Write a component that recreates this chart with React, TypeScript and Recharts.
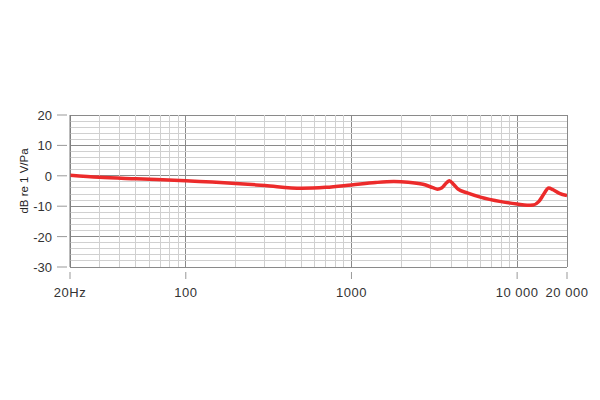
import React from 'react';
import { LineChart, Line, XAxis, YAxis, CartesianGrid, ReferenceLine } from 'recharts';

const freqs = [20, 30, 50, 100, 200, 300, 500, 700, 1000, 1400, 1800, 2200, 2700, 3100, 3300, 3500, 3750, 3900, 4100, 4400, 5000, 6000, 8000, 10000, 11500, 12500, 13500, 14500, 15500, 16500, 18000, 20000];
const levels = [0.2, -0.5, -1.0, -1.6, -2.5, -3.2, -4.1, -3.8, -3.0, -2.2, -1.9, -2.1, -2.8, -3.9, -4.4, -4.0, -2.3, -1.6, -2.6, -4.4, -5.6, -7.0, -8.5, -9.3, -9.7, -9.6, -8.5, -6.0, -4.0, -4.6, -5.8, -6.5];

const xMinor = [30, 40, 50, 60, 70, 80, 90, 200, 300, 400, 500, 600, 700, 800, 900, 2000, 3000, 4000, 5000, 6000, 7000, 8000, 9000];
const xMajor = [20, 100, 1000, 10000, 20000];
const xLabels = ['20Hz', '100', '1000', '10 000', '20 000'];
const yMinor = [18, 16, 14, 12, 8, 6, 4, 2, -2, -4, -6, -8, -12, -14, -16, -18, -22, -24, -26, -28];
const yMajor = [20, 10, 0, -10, -20, -30];

const data = freqs.map((f, i) => ({ f, db: levels[i] }));

const FONT = '"Liberation Sans", Arial, Helvetica, sans-serif';

const XTick = (props: any) => {
  const { x, y, payload } = props;
  const idx = xMajor.indexOf(payload.value);
  if (idx < 0) return null;
  return (
    <g>
      <line x1={x} x2={x} y1={y + 5} y2={y + 12} stroke="#999" strokeWidth={1} />
      <text x={x} y={y + 30} textAnchor="middle" fontFamily={FONT} fontSize={13} fill="#333" letterSpacing={0.5}>
        {xLabels[idx]}
      </text>
    </g>
  );
};

const YTick = (props: any) => {
  const { x, y, payload } = props;
  return (
    <g>
      <line x1={x - 13} x2={x - 3} y1={y} y2={y} stroke="#999" strokeWidth={1} />
      <text x={x - 18} y={y + 5} textAnchor="end" fontFamily={FONT} fontSize={13} fill="#333">
        {payload.value}
      </text>
    </g>
  );
};

const YLabel = (props: any) => {
  const vb = props.viewBox || { x: 10, y: 115, width: 60, height: 152 };
  const cx = vb.x + 18;
  const cy = vb.y + vb.height / 2 - 10;
  return (
    <text x={cx} y={cy} transform={`rotate(-90 ${cx} ${cy})`} textAnchor="middle" fontFamily={FONT} fontSize={11.5} fill="#222">
      dB re 1 V/Pa
    </text>
  );
};

export default function App() {
  return (
    <div style={{ position: 'absolute', left: 0, top: 0, width: 600, height: 400, background: '#fff' }}>
      <style>{`.recharts-reference-line line, .recharts-cartesian-grid line { shape-rendering: crispEdges; }`}</style>
      <LineChart width={600} height={400} data={data} margin={{ top: 115, right: 33, bottom: 103, left: 10 }}>
        {xMinor.map((v) => (
          <ReferenceLine key={'vx' + v} x={v} stroke="#d0d0d0" strokeWidth={1} />
        ))}
        {yMinor.map((v) => (
          <ReferenceLine key={'hy' + v} y={v} stroke="#d0d0d0" strokeWidth={1} />
        ))}
        <CartesianGrid stroke="#8a8a8a" strokeWidth={1} horizontalValues={yMajor} verticalValues={xMajor} />
        <XAxis
          dataKey="f"
          type="number"
          scale="log"
          domain={[20, 20000]}
          ticks={xMajor}
          tick={<XTick />}
          tickLine={false}
          axisLine={false}
          tickSize={0}
          tickMargin={0}
          height={30}
          allowDataOverflow
        />
        <YAxis
          type="number"
          domain={[-30, 20]}
          ticks={yMajor}
          tick={<YTick />}
          tickLine={false}
          axisLine={{ stroke: '#777', strokeWidth: 1 }}
          tickSize={0}
          tickMargin={0}
          width={60}
          label={<YLabel />}
        />
        <Line type="monotone" dataKey="db" stroke="#ec2b2b" strokeWidth={3.5} dot={false} isAnimationActive={false} />
      </LineChart>
    </div>
  );
}
